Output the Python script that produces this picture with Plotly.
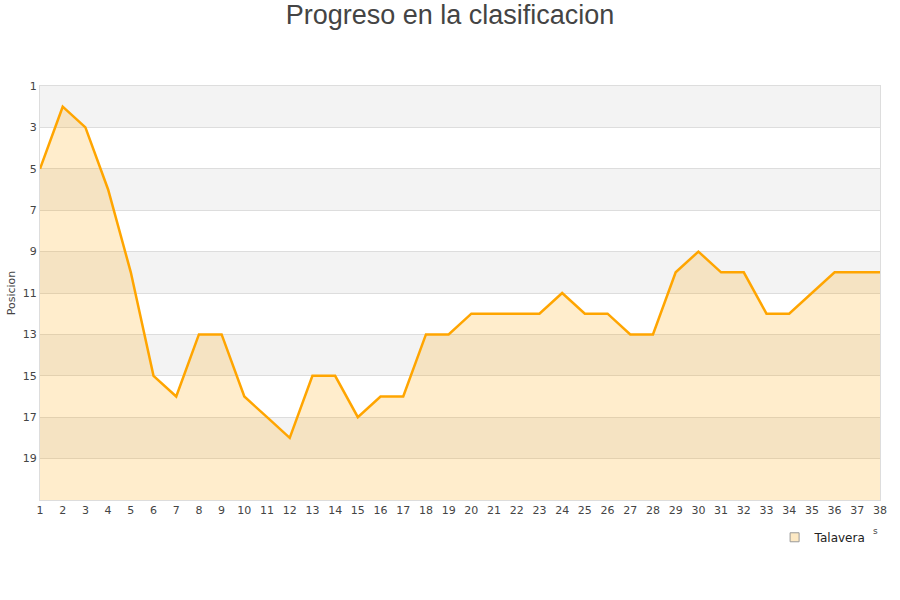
import plotly.graph_objects as go

jornadas = list(range(1, 39))
posicion = [5, 2, 3, 6, 10, 15, 16, 13, 13, 16, 17, 18, 15, 15, 17, 16, 16, 13, 13, 12,
            12, 12, 12, 11, 12, 12, 13, 13, 10, 9, 10, 10, 12, 12, 11, 10, 10, 10]
team = "Talavera"
y_ticks = [1, 3, 5, 7, 9, 11, 13, 15, 17, 19]
band_starts = [1, 5, 9, 13, 17]
band_height = 2
y_bottom = 21

fig = go.Figure()

# baseline for area fill
fig.add_trace(go.Scatter(x=jornadas, y=[y_bottom] * len(jornadas), mode="lines",
                         line=dict(width=0, color="rgba(0,0,0,0)"), showlegend=False,
                         hoverinfo="skip"))
fig.add_trace(go.Scatter(x=jornadas, y=posicion, mode="lines", fill="tonexty",
                         fillcolor="rgba(255,165,0,0.2)",
                         line=dict(color="#ffa500", width=2.5), showlegend=False, name=team))
fig.add_trace(go.Scatter(x=[None], y=[None], mode="markers", name=team,
                         marker=dict(symbol="square", size=9, color="#fde9c4",
                                     line=dict(color="#999999", width=1))))

shapes = []
for s in band_starts:
    shapes.append(dict(type="rect", xref="paper", yref="y", x0=0, x1=1, y0=s, y1=s + band_height,
                       fillcolor="#f3f3f3", line=dict(width=0), layer="below"))

fig.update_layout(
    width=900, height=600,
    margin=dict(l=40, r=20, t=86, b=100, autoexpand=False),
    paper_bgcolor="white", plot_bgcolor="white",
    title=dict(text="Progreso en la clasificacion", x=0.5, xanchor="center", y=0.975, yanchor="middle",
               font=dict(family="Liberation Sans, Arial, sans-serif", size=27, color="#444444")),
    shapes=shapes,
    showlegend=True,
    legend=dict(x=0.990, xanchor="right", y=-0.055, yanchor="top", bgcolor="rgba(0,0,0,0)",
                itemwidth=30,
                font=dict(family="DejaVu Sans", size=12, color="#222222")),
    annotations=[dict(text="s", xref="paper", yref="paper", x=0.995, y=-0.075,
                      xanchor="center", yanchor="middle", showarrow=False,
                      font=dict(family="DejaVu Sans", size=9, color="#444444"))],
    xaxis=dict(range=[1, 38], tickmode="array", tickvals=jornadas, ticks="", automargin=False,
               showgrid=False, zeroline=False, showline=True, linecolor="#dddddd", mirror=True,
               tickfont=dict(family="DejaVu Sans", size=11, color="#444444")),
    yaxis=dict(range=[y_bottom, 1], tickmode="array", tickvals=y_ticks, ticks="", automargin=False,
               showgrid=True, gridcolor="#dddddd", zeroline=False, showline=True,
               linecolor="#dddddd", mirror=True,
               title=dict(text="Posicion", standoff=4,
                          font=dict(family="DejaVu Sans", size=11, color="#444444")),
               tickfont=dict(family="DejaVu Sans", size=11, color="#444444")),
)

fig.write_html("out.html", config={"displayModeBar": False},
               post_script="document.body.style.margin='0';")
